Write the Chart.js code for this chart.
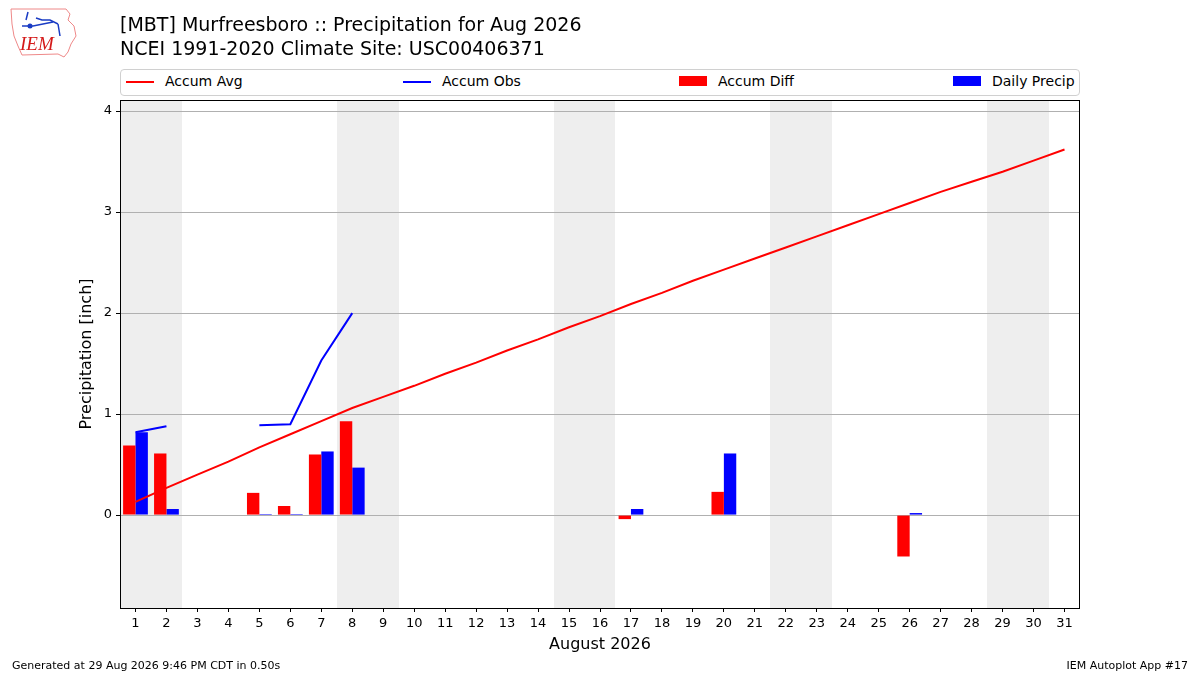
<!DOCTYPE html>
<html>
<head>
<meta charset="utf-8">
<script src="https://cdn.jsdelivr.net/npm/chart.js@4"></script>
<style>
	body { margin: 0; background: #fff; font-family: "DejaVu Sans", sans-serif; }
	#wrap { position: relative; width: 1200px; height: 675px; overflow: hidden; }
	#c { position: absolute; left: 0; top: 0; }
	.txt { position: absolute; color: #000; white-space: nowrap; }
	#title { left: 120px; top: 12px; font-size: 19px; line-height: 24px; }
	#legend { position: absolute; left: 120px; top: 69px; width: 958px; height: 25px; border: 1px solid #d0d0d0; border-radius: 4px; background: #fff; font-size: 14px; }
	.lg { position: absolute; top: 3px; line-height: 16px; }
	.sw { position: absolute; }
	#foot1 { left: 12px; top: 659px; font-size: 11px; }
	#foot2 { right: 12px; top: 659px; font-size: 11px; }
</style>
</head>
<body>
<div id="wrap">
	<canvas id="c" width="1200" height="675"></canvas>
	<svg style="position:absolute;left:8px;top:6px" width="72" height="54">
		<path d="M3 3 L58 3 L62 8 L60 14 L66 20 L68 30 L63 38 L60 46 L56 51 L50 48 L14 49 L10 40 L6 30 L4 18 Z" fill="none" stroke="#e88" stroke-width="1"/>
		<path d="M14 20 L25 20 L45 16 M28 12 L34 14 L42 14 L50 18 M18 14 L20 6 M50 18 L52 30" fill="none" stroke="#1a3cc4" stroke-width="1.5"/>
		<circle cx="22" cy="20" r="2.5" fill="#1a3cc4"/>
		<text x="12" y="44" font-family="Liberation Serif, serif" font-style="italic" font-size="19" fill="#d41a1a">IEM</text>
	</svg>
	<div id="title" class="txt">[MBT] Murfreesboro :: Precipitation for Aug 2026<br>NCEI 1991-2020 Climate Site: USC00406371</div>
	<div id="legend"></div>
	<div id="foot1" class="txt">Generated at 29 Aug 2026 9:46 PM CDT in 0.50s</div>
	<div id="foot2" class="txt">IEM Autoplot App #17</div>
</div>
<script>
// days of August 2026
const days = ['1','2','3','4','5','6','7','8','9','10','11','12','13','14','15','16',
	'17','18','19','20','21','22','23','24','25','26','27','28','29','30','31'];

// weekend days (Sat/Sun) shaded grey
const weekendDays = [1, 2, 8, 9, 15, 16, 22, 23, 29, 30];

// accumulated climatology
const accumAvg = [0.13, 0.27, 0.40, 0.53, 0.67, 0.80, 0.93, 1.06, 1.17, 1.28, 1.40, 1.51, 1.63, 1.74, 1.86, 1.97,
	2.09, 2.20, 2.32, 2.43, 2.54, 2.65, 2.76, 2.87, 2.98, 3.09, 3.20, 3.30, 3.40, 3.51, 3.62];

// accumulated observed
const accumObs = [0.82, 0.88, null, null, 0.89, 0.90, 1.53, 2.00, null, null, null, null, null, null, null, null,
	2.06, null, null, 2.67, null, null, null, null, null, 2.69, null, null, null, null, null];

// observed minus climatology
const accumDiff = [0.69, 0.61, null, null, 0.22, 0.09, 0.60, 0.93, null, null, null, null, null, null, null, null,
	-0.04, null, null, 0.23, null, null, null, null, null, -0.41, null, null, null, null, null];

const dailyPrecip = [0.82, 0.06, null, null, 0.01, 0.01, 0.63, 0.47, null, null, null, null, null, null, null, null,
	0.06, null, null, 0.61, null, null, null, null, null, 0.02, null, null, null, null, null];

const yTicks = [0, 1, 2, 3, 4];

// legend, drawn as html
const legendItems = [
	{ label: 'Accum Avg', color: '#ff0000', kind: 'line', x: 5 },
	{ label: 'Accum Obs', color: '#0000ff', kind: 'line', x: 282 },
	{ label: 'Accum Diff', color: '#ff0000', kind: 'box', x: 558 },
	{ label: 'Daily Precip', color: '#0000ff', kind: 'box', x: 832 },
];
var lg = document.getElementById('legend');
legendItems.forEach(function (it) {
	var sw = document.createElement('div');
	sw.className = 'sw';
	sw.style.left = it.x + 'px';
	sw.style.width = '28px';
	sw.style.background = it.color;
	if (it.kind == 'line') { sw.style.top = '11px'; sw.style.height = '2px'; }
	else { sw.style.top = '6px'; sw.style.height = '10px'; }
	lg.appendChild(sw);
	var t = document.createElement('div');
	t.className = 'lg';
	t.style.left = (it.x + 39) + 'px';
	t.textContent = it.label;
	lg.appendChild(t);
});

const weekendShade = {
	id: 'weekendShade',
	beforeDraw(chart) {
		const { ctx, chartArea, scales } = chart;
		const half = scales.x.width / 62;
		ctx.save();
		ctx.fillStyle = '#eeeeee';
		weekendDays.forEach(function (d) {
			var c = scales.x.getPixelForValue(d - 1);
			var x0 = Math.round(c - half), x1 = Math.round(c + half);
			ctx.fillRect(x0, chartArea.top, x1 - x0, chartArea.bottom - chartArea.top);
		});
		ctx.restore();
	},
	afterDraw(chart) {
		const { ctx, chartArea } = chart;
		ctx.save();
		ctx.strokeStyle = '#000';
		ctx.lineWidth = 1;
		ctx.strokeRect(chartArea.left + 0.5, chartArea.top + 0.5, chartArea.right - chartArea.left - 1, chartArea.bottom - chartArea.top);
		ctx.restore();
	}
};

Chart.defaults.font.family = '"DejaVu Sans", sans-serif';
Chart.defaults.color = '#000';

const data = {
	labels: days,
	datasets: [
		{
			type: 'line', label: 'Accum Avg', data: accumAvg,
			borderColor: '#ff0000', borderWidth: 2, pointRadius: 0, tension: 0, order: 0
		},
		{
			type: 'line', label: 'Accum Obs', data: accumObs,
			borderColor: '#0000ff', borderWidth: 2, pointRadius: 0, tension: 0, spanGaps: false, order: 0
		},
		{
			type: 'bar', label: 'Accum Diff', data: accumDiff,
			backgroundColor: '#ff0000', categoryPercentage: 0.8, barPercentage: 1.0, order: 1
		},
		{
			type: 'bar', label: 'Daily Precip', data: dailyPrecip,
			backgroundColor: '#0000ff', categoryPercentage: 0.8, barPercentage: 1.0, order: 1
		}
	]
};

const config = {
	type: 'bar',
	data: data,
	options: {
		responsive: false,
		animation: false,
		devicePixelRatio: 1,
		layout: { padding: { left: 70, right: 120, top: 100, bottom: 17 } },
		scales: {
			x: {
				offset: true,
				grid: { display: true, drawOnChartArea: false, offset: false, tickColor: '#000', tickLength: 4 },
				border: { display: false },
				ticks: { font: { size: 13 }, padding: 4, maxRotation: 0, autoSkip: false },
				title: { display: true, text: 'August 2026', font: { size: 16 }, padding: { top: 0, bottom: 4 } },
				afterFit(scale) { scale.height = 50; }
			},
			y: {
				min: -0.92,
				max: 4.11,
				grid: { color: '#b0b0b0', tickColor: '#000', tickLength: 4 },
				border: { display: false },
				ticks: {
					stepSize: 1, includeBounds: false, font: { size: 13 }, padding: 4,
					callback: (v) => yTicks.includes(v) ? String(v) : ''
				},
				title: { display: true, text: 'Precipitation [inch]', font: { size: 16 }, padding: { top: 7, bottom: 0 } },
				afterFit(scale) { scale.width = 50; }
			}
		},
		plugins: {
			legend: { display: false },
			tooltip: { enabled: false }
		}
	},
	plugins: [weekendShade]
};

var ctx = document.getElementById('c');
if (ctx != null) {
	const chart = new Chart(ctx, config);
}
</script>
</body>
</html>
